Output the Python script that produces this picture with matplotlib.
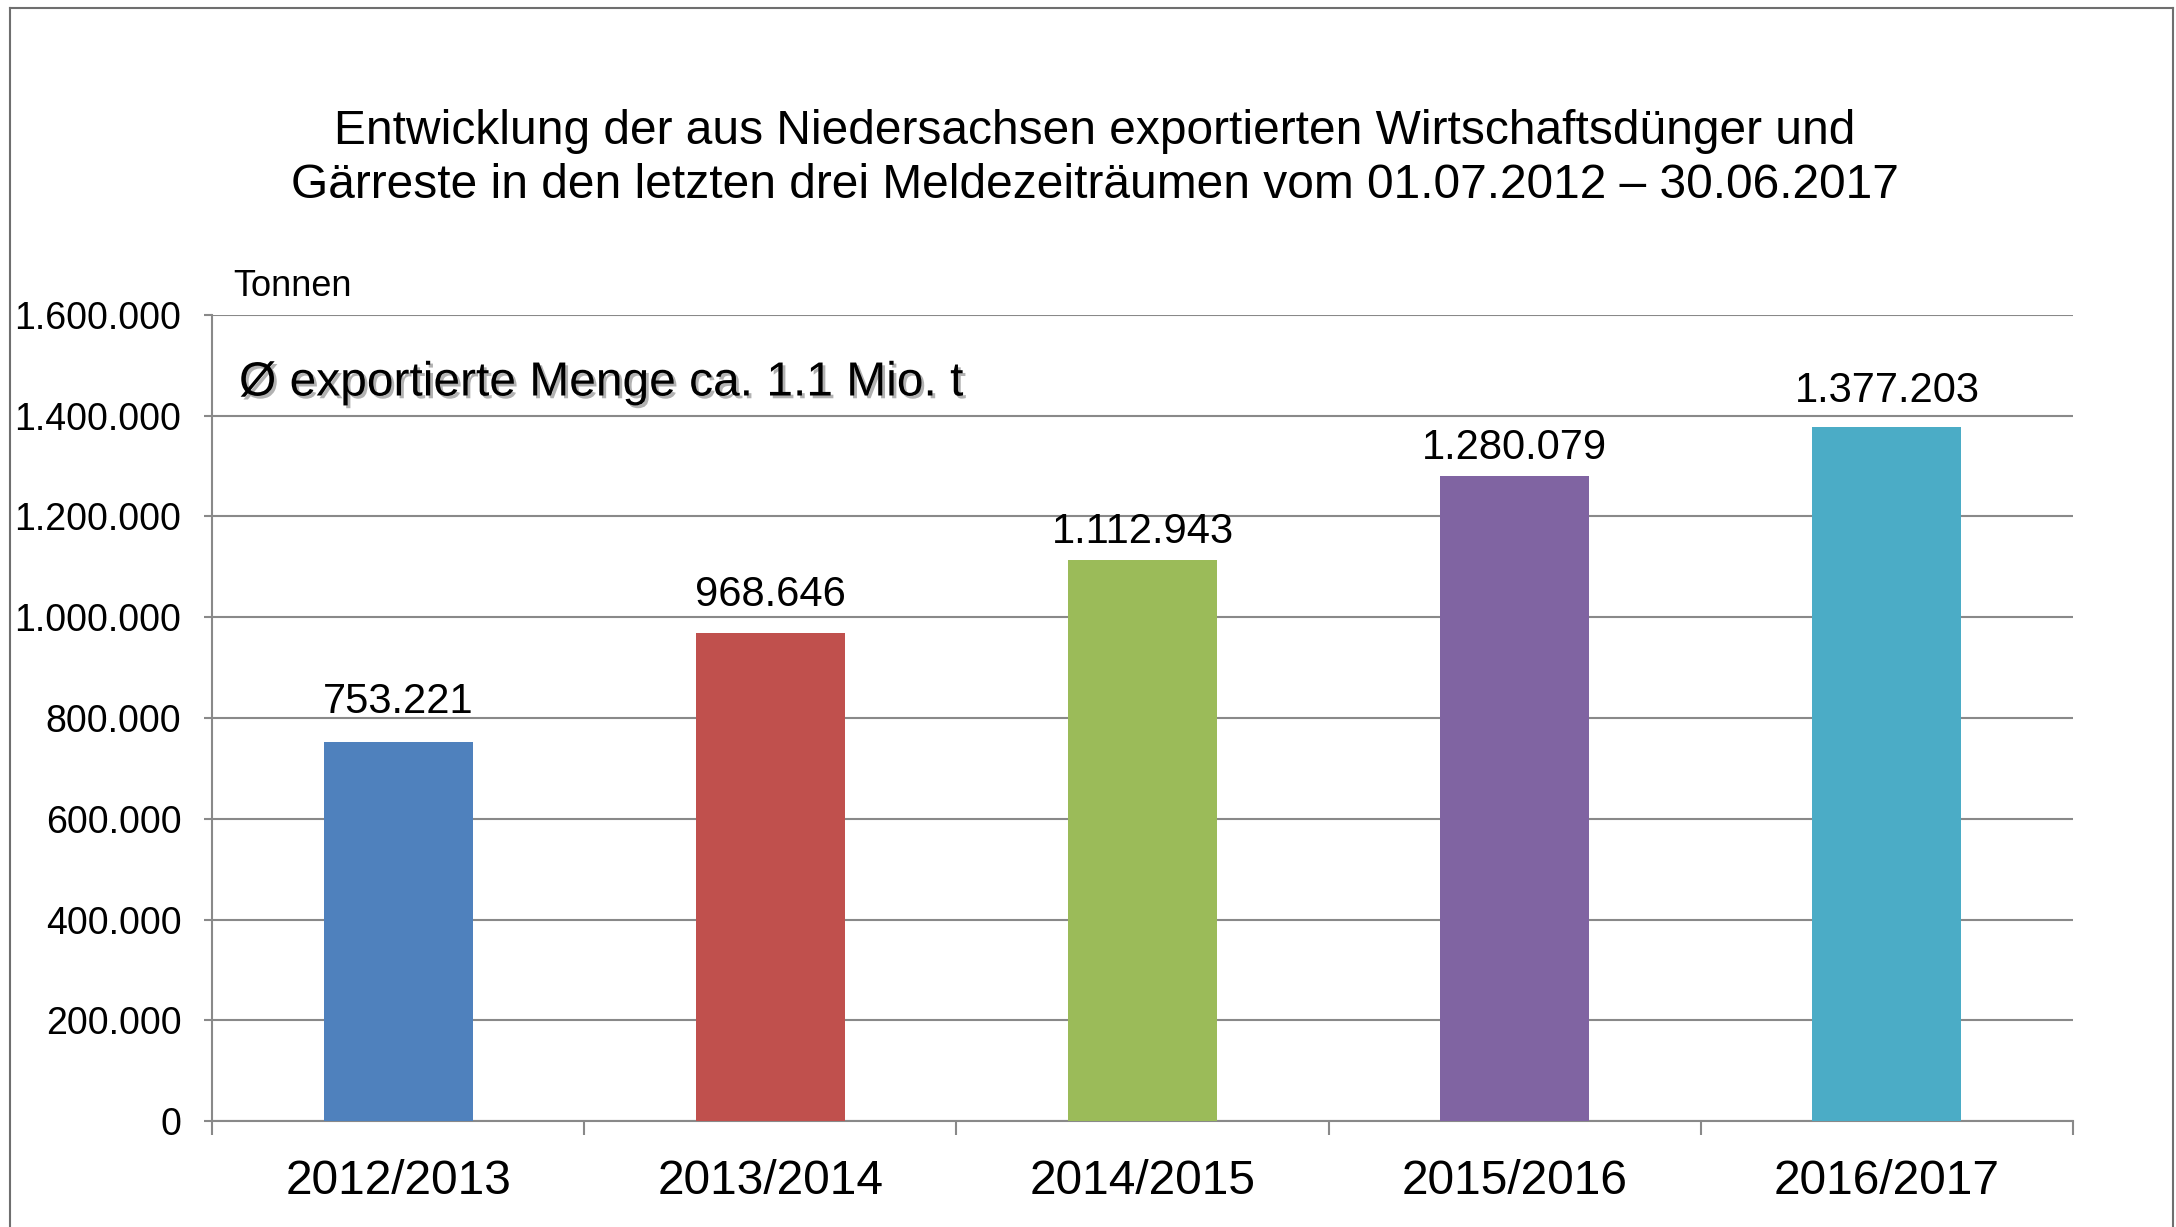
import matplotlib
matplotlib.use('Agg')
import numpy as np
from matplotlib import pyplot as plt
from matplotlib import patheffects
from matplotlib.lines import Line2D

plt.rcParams['font.family'] = ['Liberation Sans', 'DejaVu Sans']

years = ['2012/2013', '2013/2014', '2014/2015', '2015/2016', '2016/2017']
tonnen = [753221, 968646, 1112943, 1280079, 1377203]
farben = ['#4F81BD', '#C0504D', '#9BBB59', '#8064A2', '#4BACC6']
yticks = [0, 200000, 400000, 600000, 800000, 1000000, 1200000, 1400000, 1600000]

# Abstand der Werte über den Balken (pt), wie im Original leicht unterschiedlich
label_abstand = [14, 13, 6, 6, 12]


def de_format(v):
    return f'{v:,.0f}'.replace(',', '.')


W, H = 2176, 1227
fig = plt.figure(figsize=(W / 100, H / 100), dpi=100)
ax = fig.add_axes([212 / W, 1 - 1121 / H, (2073 - 212) / W, (1121 - 315) / H])

grau = '#898989'
x = np.arange(len(years))
ax.bar(x, tonnen, width=0.4, color=farben, zorder=3)

for xi, v, d in zip(x, tonnen, label_abstand):
    ax.annotate(de_format(v), (xi, v), xytext=(0, d), textcoords='offset points',
                ha='center', va='bottom', fontsize=30, color='black')

ax.set_xlim(-0.5, len(years) - 0.5)
ax.set_ylim(0, 1600000)
ax.set_yticks(yticks)
ax.set_yticklabels([de_format(v) for v in yticks])
ax.yaxis.grid(True, color=grau, linewidth=1.5, zorder=0)
ax.set_axisbelow(True)

ax.set_xticks(x)
ax.set_xticklabels(years)
ax.set_xticks(np.arange(-0.5, len(years)), minor=True)
ax.tick_params(axis='x', which='major', length=0, pad=27, labelsize=34.5)
ax.tick_params(axis='x', which='minor', length=10, width=1.5, color=grau, direction='out')
ax.tick_params(axis='y', length=6, width=1.5, color=grau, pad=16, labelsize=27)

for s in ['top', 'right']:
    ax.spines[s].set_visible(False)
for s in ['left', 'bottom']:
    ax.spines[s].set_color(grau)
    ax.spines[s].set_linewidth(1.5)

# Titel
fig.text(1095 / W, 1 - 132 / H, 'Entwicklung der aus Niedersachsen exportierten Wirtschaftsdünger und',
         ha='center', va='center', fontsize=34.5)
fig.text(1095 / W, 1 - 185 / H, 'Gärreste in den letzten drei Meldezeiträumen vom 01.07.2012 – 30.06.2017',
         ha='center', va='center', fontsize=34.5)

fig.text(233 / W, 1 - 286 / H, 'Tonnen', ha='left', va='center', fontsize=26)

fig.text(239 / W, 1 - 383 / H, 'Ø exportierte Menge ca. 1.1 Mio. t', ha='left', va='center',
         fontsize=34.5,
         path_effects=[patheffects.withSimplePatchShadow(offset=(2, -2), shadow_rgbFace='#808080', alpha=0.6)])

# Rahmen
rc = '#6f6f6f'
fig.add_artist(Line2D([10 / W, 10 / W], [0, 1 - 8 / H], color=rc, linewidth=1.5, transform=fig.transFigure))
fig.add_artist(Line2D([10 / W, 2173 / W], [1 - 8 / H, 1 - 8 / H], color=rc, linewidth=1.5, transform=fig.transFigure))
fig.add_artist(Line2D([2173 / W, 2173 / W], [0, 1 - 8 / H], color=rc, linewidth=1.5, transform=fig.transFigure))

fig.savefig('out.png', dpi=100)
